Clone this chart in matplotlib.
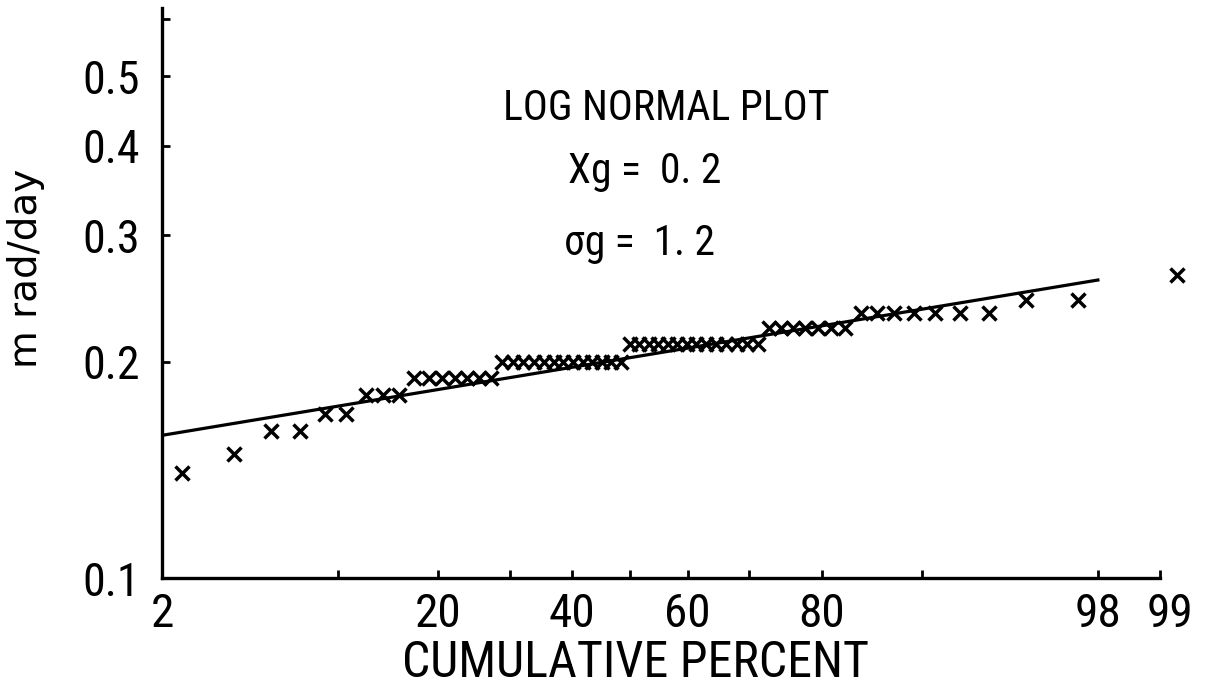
from statistics import NormalDist

import numpy as np
import matplotlib
matplotlib.use('Agg')
import matplotlib.pyplot as plt
from matplotlib import font_manager as fm
from matplotlib.ticker import FixedLocator, FixedFormatter, NullLocator
from matplotlib.transforms import ScaledTranslation

cum_pct = [2.46, 4.10, 5.74, 7.38, 9.02, 10.66, 12.30, 13.93, 15.57,
           17.21, 18.85, 20.49, 22.13, 23.77, 25.41, 27.05,
           28.69, 30.33, 31.97, 33.61, 35.25, 36.89, 38.52, 40.16, 41.80,
           43.44, 45.08, 46.72, 48.36,
           50.00, 51.64, 53.28, 54.92, 56.56, 58.20, 59.84, 61.48, 63.11,
           64.75, 66.39, 68.03, 69.67, 71.31,
           72.95, 74.59, 76.23, 77.87, 79.51, 81.15, 82.79,
           84.43, 86.07, 87.70, 89.34, 90.98, 92.62, 94.26,
           95.90, 97.54, 99.18]
dose = [0.140, 0.149, 0.160, 0.160, 0.169, 0.169, 0.180, 0.180, 0.180,
        0.190, 0.190, 0.190, 0.190, 0.190, 0.190, 0.190,
        0.200, 0.200, 0.200, 0.200, 0.200, 0.200, 0.200, 0.200, 0.200,
        0.200, 0.200, 0.200, 0.200,
        0.212, 0.212, 0.212, 0.212, 0.212, 0.212, 0.212, 0.212, 0.212,
        0.212, 0.212, 0.212, 0.212, 0.212,
        0.223, 0.223, 0.223, 0.223, 0.223, 0.223, 0.223,
        0.234, 0.234, 0.234, 0.234, 0.234, 0.234, 0.234,
        0.244, 0.244, 0.264]

# fitted log-normal line
fit_pct = [2, 98]
fit_dose = [0.158, 0.260]

x_ticks = [2, 10, 20, 30, 40, 50, 60, 70, 80, 90, 98, 99]
x_labels = ['2', '', '20', '', '40', '', '60', '', '80', '', '98', '99']
y_ticks = [0.1, 0.2, 0.3, 0.4, 0.5, 0.6]
y_labels = ['0.1', '0.2', '0.3', '0.4', '0.5', '']

_nd = NormalDist()


def probit(p):
    # percent -> normal deviate
    p = np.clip(np.asarray(p, dtype=float), 1e-4, 100 - 1e-4)
    return np.vectorize(lambda v: _nd.inv_cdf(v / 100.0), otypes=[float])(p)


def probit_inv(z):
    z = np.asarray(z, dtype=float)
    return np.vectorize(lambda v: _nd.cdf(v) * 100.0, otypes=[float])(z)


def narrow_font():
    # the original lettering is a condensed sans, use the narrowest one we have
    fonts = fm.fontManager.ttflist
    names = {f.name for f in fonts}
    for n in ['Liberation Sans Narrow', 'Roboto Condensed', 'Open Sans Condensed']:
        if n in names:
            return n, 'normal'
    for f in fonts:
        if f.name == 'DejaVu Sans' and 'condensed' in str(f.stretch):
            return 'DejaVu Sans', 'condensed'
    if 'Roboto' in names:
        return 'Roboto', 'normal'
    return 'DejaVu Sans', 'normal'


fam, stretch = narrow_font()
plt.rcParams['font.family'] = [fam, 'DejaVu Sans']
plt.rcParams['font.stretch'] = stretch

W, H = 1206, 694
fig = plt.figure(figsize=(W / 100, H / 100), dpi=100)
ax = fig.add_axes([162 / W, 1 - 578 / H, (1160 - 162) / W, (578 - 8) / H])

ax.set_xscale('function', functions=(probit, probit_inv))
ax.set_yscale('log')
ax.set_xlim(2, 99)
ax.set_ylim(0.1, 0.622)

# data points and fitted line
ax.plot(cum_pct, dose, 'x', color='black', ms=9.5, mew=2.5, clip_on=False)
ax.plot(fit_pct, fit_dose, color='black', lw=2.3)

ax.xaxis.set_major_locator(FixedLocator(x_ticks))
ax.xaxis.set_major_formatter(FixedFormatter(x_labels))
ax.xaxis.set_minor_locator(NullLocator())
ax.yaxis.set_major_locator(FixedLocator(y_ticks))
ax.yaxis.set_major_formatter(FixedFormatter(y_labels))
ax.yaxis.set_minor_locator(NullLocator())

for s in ['top', 'right']:
    ax.spines[s].set_visible(False)
for s in ['left', 'bottom']:
    ax.spines[s].set_linewidth(2.4)

ax.tick_params(axis='both', direction='in', length=6, width=2, color='black')
ax.tick_params(axis='x', labelsize=34, pad=10)
ax.tick_params(axis='y', labelsize=33, pad=16)

# the "99" sits a little right of its tick in the original
lab99 = ax.xaxis.get_major_ticks()[-1].label1
lab99.set_transform(lab99.get_transform() + ScaledTranslation(10 / 100, 0, fig.dpi_scale_trans))

ax.set_xlabel('CUMULATIVE PERCENT', fontsize=36)
ax.xaxis.set_label_coords((635 - 162) / 998, (578 - 639) / 570)
ax.set_ylabel('m rad/day', fontsize=28, family='DejaVu Sans')
ax.yaxis.set_label_coords((45 - 162) / 998, (578 - 268) / 570)

fig.text(666 / W, 1 - 109 / H, 'LOG NORMAL PLOT', fontsize=30, ha='center', va='center')
fig.text(568 / W, 1 - 171 / H, 'Xg =  0. 2', fontsize=30, ha='left', va='center')
fig.text(564 / W, 1 - 243 / H, 'σg =  1. 2', fontsize=30, ha='left', va='center')

fig.savefig('out.png', dpi=100)
